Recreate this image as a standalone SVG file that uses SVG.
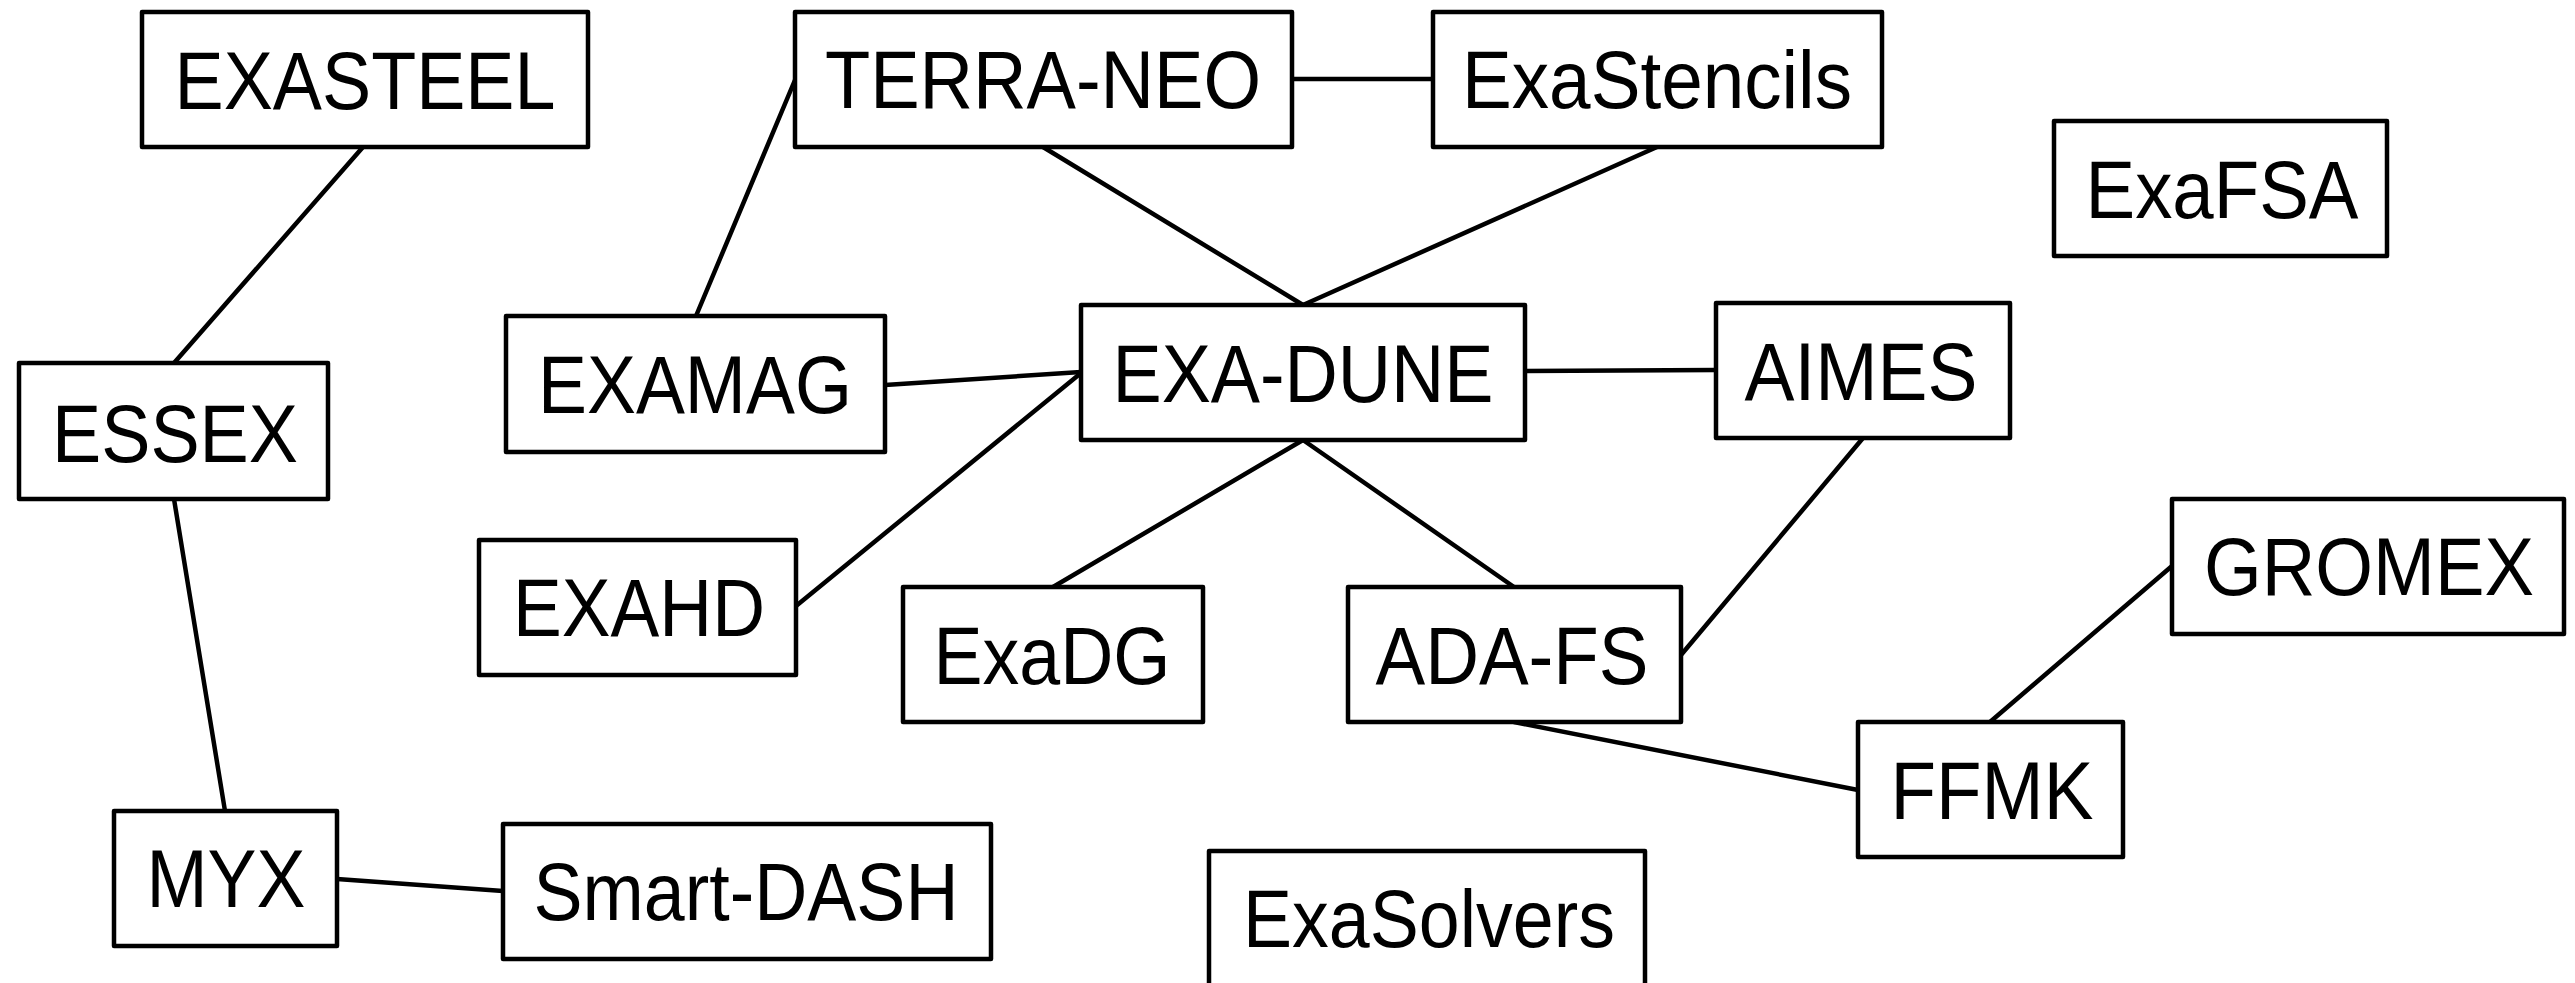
<svg xmlns="http://www.w3.org/2000/svg" width="2575" height="983" viewBox="0 0 2575 983">
<style>
.box{fill:#fff;stroke:#000;stroke-width:4.5;stroke-linejoin:round}
.lbl{font-family:"Liberation Sans",Arial,sans-serif;font-size:82px;fill:#000;text-anchor:middle}
.edge{stroke:#000;stroke-width:4.5;fill:none;stroke-linecap:round}
</style>
<rect width="2575" height="983" fill="#fff"/>
<g id="connectors">
<line class="edge" x1="363" y1="147" x2="174" y2="363"/>
<line class="edge" x1="174" y1="499" x2="225" y2="811"/>
<line class="edge" x1="337" y1="879" x2="503" y2="891"/>
<line class="edge" x1="696" y1="316" x2="795" y2="80"/>
<line class="edge" x1="1292" y1="79" x2="1433" y2="79"/>
<line class="edge" x1="1043" y1="147" x2="1303" y2="305"/>
<line class="edge" x1="1657" y1="147" x2="1303" y2="305"/>
<line class="edge" x1="885" y1="385" x2="1081" y2="372"/>
<line class="edge" x1="796" y1="606" x2="1081" y2="373"/>
<line class="edge" x1="1525" y1="371" x2="1716" y2="370"/>
<line class="edge" x1="1303" y1="440" x2="1053" y2="587"/>
<line class="edge" x1="1303" y1="440" x2="1514" y2="587"/>
<line class="edge" x1="1863" y1="438" x2="1681" y2="655"/>
<line class="edge" x1="1514" y1="722" x2="1858" y2="790"/>
<line class="edge" x1="2172" y1="566" x2="1990" y2="722"/>
</g>
<g id="EXASTEEL"><rect class="box" x="142" y="12" width="446" height="135"/><text class="lbl" x="365" y="109" textLength="381" lengthAdjust="spacingAndGlyphs">EXASTEEL</text></g>
<g id="TERRA-NEO"><rect class="box" x="795" y="12" width="497" height="135"/><text class="lbl" x="1043" y="108" textLength="436" lengthAdjust="spacingAndGlyphs">TERRA-NEO</text></g>
<g id="ExaStencils"><rect class="box" x="1433" y="12" width="449" height="135"/><text class="lbl" x="1657" y="108" textLength="390" lengthAdjust="spacingAndGlyphs">ExaStencils</text></g>
<g id="ExaFSA"><rect class="box" x="2054" y="121" width="333" height="135"/><text class="lbl" x="2222" y="218" textLength="273" lengthAdjust="spacingAndGlyphs">ExaFSA</text></g>
<g id="ESSEX"><rect class="box" x="19" y="363" width="309" height="136"/><text class="lbl" x="175" y="462" textLength="246" lengthAdjust="spacingAndGlyphs">ESSEX</text></g>
<g id="EXAMAG"><rect class="box" x="506" y="316" width="379" height="136"/><text class="lbl" x="695" y="413" textLength="314" lengthAdjust="spacingAndGlyphs">EXAMAG</text></g>
<g id="EXA-DUNE"><rect class="box" x="1081" y="305" width="444" height="135"/><text class="lbl" x="1303" y="402" textLength="381" lengthAdjust="spacingAndGlyphs">EXA-DUNE</text></g>
<g id="AIMES"><rect class="box" x="1716" y="303" width="294" height="135"/><text class="lbl" x="1861" y="400" textLength="233" lengthAdjust="spacingAndGlyphs">AIMES</text></g>
<g id="EXAHD"><rect class="box" x="479" y="540" width="317" height="135"/><text class="lbl" x="639" y="636" textLength="252" lengthAdjust="spacingAndGlyphs">EXAHD</text></g>
<g id="ExaDG"><rect class="box" x="903" y="587" width="300" height="135"/><text class="lbl" x="1052" y="684" textLength="237" lengthAdjust="spacingAndGlyphs">ExaDG</text></g>
<g id="ADA-FS"><rect class="box" x="1348" y="587" width="333" height="135"/><text class="lbl" x="1512" y="684" textLength="273" lengthAdjust="spacingAndGlyphs">ADA-FS</text></g>
<g id="GROMEX"><rect class="box" x="2172" y="499" width="392" height="135"/><text class="lbl" x="2369" y="595" textLength="330" lengthAdjust="spacingAndGlyphs">GROMEX</text></g>
<g id="FFMK"><rect class="box" x="1858" y="722" width="265" height="135"/><text class="lbl" x="1992" y="819" textLength="203" lengthAdjust="spacingAndGlyphs">FFMK</text></g>
<g id="MYX"><rect class="box" x="114" y="811" width="223" height="135"/><text class="lbl" x="226" y="907" textLength="159" lengthAdjust="spacingAndGlyphs">MYX</text></g>
<g id="Smart-DASH"><rect class="box" x="503" y="824" width="488" height="135"/><text class="lbl" x="746" y="920" textLength="425" lengthAdjust="spacingAndGlyphs">Smart-DASH</text></g>
<g id="ExaSolvers"><rect class="box" x="1209" y="851" width="436" height="145"/><text class="lbl" x="1429" y="947" textLength="372" lengthAdjust="spacingAndGlyphs">ExaSolvers</text></g>
</svg>
